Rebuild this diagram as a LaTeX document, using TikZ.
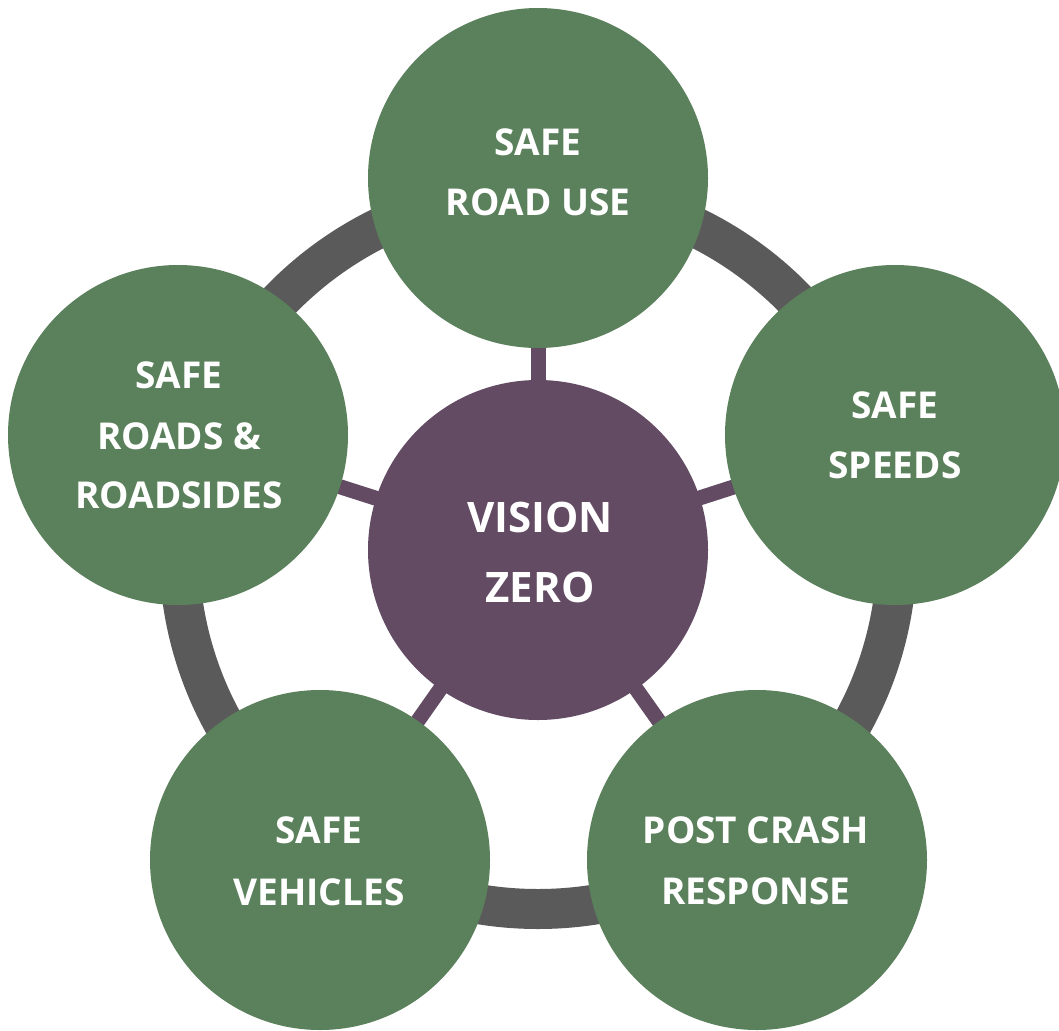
\documentclass[tikz,border=0pt]{standalone}
\usepackage{fontspec}
\setmainfont{Open Sans}
\usetikzlibrary{backgrounds}
\definecolor{vzgreen}{RGB}{91,128,92}
\definecolor{vzpurple}{RGB}{98,75,99}
\definecolor{vzgray}{RGB}{90,90,90}
\begin{document}
\begin{tikzpicture}[x=1pt,y=-1pt,
  outer/.style={circle,fill=vzgreen,minimum size=340pt,inner sep=0pt},
  hub/.style={circle,fill=vzpurple,minimum size=340pt,inner sep=0pt},
  lbl/.style={anchor=base,text=white,inner sep=0pt,font=\fontsize{37}{44}\selectfont\bfseries},
  hublbl/.style={anchor=base,text=white,inner sep=0pt,font=\fontsize{42}{50}\selectfont\bfseries},
  spoke/.style={draw=vzpurple,line width=15pt},
  ring/.style={draw=vzgray,line width=40pt}]
\useasboundingbox (0,0) rectangle (1059,1030);
% nodes
\node[hub] (vz) at (538,550) {};
\node[outer] (ru) at (538,178) {};
\node[outer] (ss) at (895,435) {};
\node[outer] (pc) at (757,860) {};
\node[outer] (sv) at (320,860) {};
\node[outer] (sr) at (178,435) {};
% ring and spokes behind
\begin{scope}[on background layer]
  \fill[white] (0,0) rectangle (1059,1030);
  \draw[ring] (vz.center) circle[radius=359pt];
  \foreach \n in {ru,ss,pc,sv,sr} \draw[spoke] (vz.center) -- (\n.center);
\end{scope}
% labels
\node[hublbl] (vz1) at (540,532) {VISION};
\node[hublbl] (vz2) at (540,602) {ZERO};
\node[lbl] (ru1) at (538,155) {SAFE};
\node[lbl] (ru2) at (538,215) {ROAD USE};
\node[lbl] (ss1) at (895,418) {SAFE};
\node[lbl] (ss2) at (895,478) {SPEEDS};
\node[lbl] (sr1) at (179,388) {SAFE};
\node[lbl] (sr2) at (179,449) {ROADS \&};
\node[lbl] (sr3) at (179,508) {ROADSIDES};
\node[lbl] (sv1) at (319,843) {SAFE};
\node[lbl] (sv2) at (319,905) {VEHICLES};
\node[lbl] (pc1) at (756,843) {POST CRASH};
\node[lbl] (pc2) at (756,904) {RESPONSE};
\end{tikzpicture}
\end{document}
